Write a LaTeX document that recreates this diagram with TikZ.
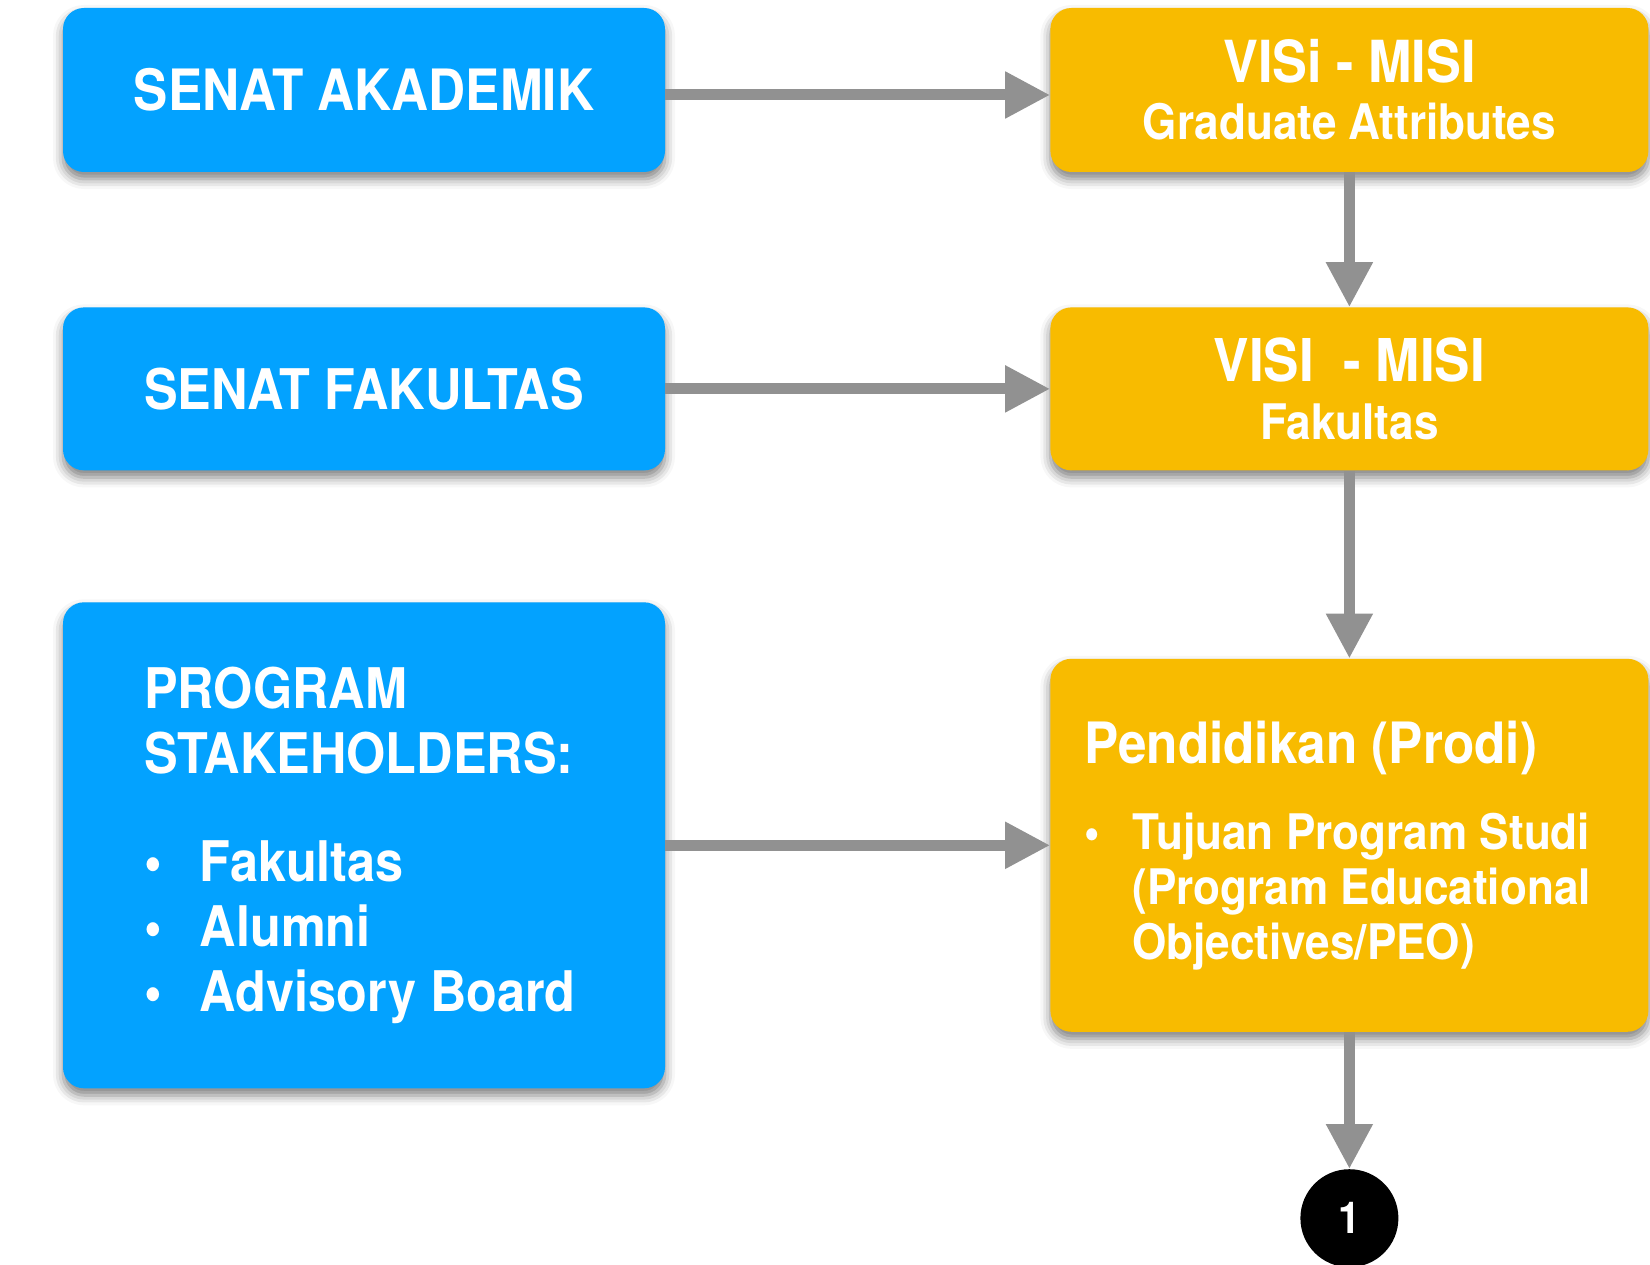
\documentclass[tikz,border=0pt]{standalone}
\usepackage{fontspec}
\setmainfont{TeX Gyre Heros}[FakeStretch=0.9]
\usetikzlibrary{positioning,arrows.meta,shadows.blur}
\definecolor{senatblue}{RGB}{3,162,255}
\definecolor{visiyellow}{RGB}{248,187,0}
\definecolor{arrowgray}{RGB}{145,145,145}
\newcommand{\itembullet}[1]{\makebox[#1][l]{\textbullet}}
\tikzset{
  boxshadow/.style={blur shadow={shadow xshift=0pt, shadow yshift=-7pt, shadow blur radius=10pt, shadow opacity=50}},
  bluebox/.style={rectangle, rounded corners=21pt, fill=senatblue, text=white, minimum width=602pt, inner sep=0pt, align=center, boxshadow},
  yellowbox/.style={rectangle, rounded corners=21pt, fill=visiyellow, text=white, minimum width=598pt, inner sep=0pt, align=center, boxshadow},
  flow/.style={draw=arrowgray, line width=11pt, -{Triangle[length=45pt, width=44pt]}}
}

\begin{document}
\begin{tikzpicture}[x=1pt, y=-1pt, node distance=385pt]
    \useasboundingbox (0,0) rectangle (1650,1265);

    % Senat Akademik
    \node[bluebox, minimum height=164pt, font=\bfseries\fontsize{57}{65}\selectfont] (senatak) at (364,90) {SENAT AKADEMIK};

    % Visi - Misi universitas
    \node[yellowbox, minimum height=164pt, font=\bfseries\fontsize{49}{57}\selectfont, right=of senatak] (visiuniv) {{\fontsize{58}{57}\selectfont VISi - MISI}\\Graduate Attributes};

    % Visi - Misi fakultas
    \node[yellowbox, minimum height=163pt, font=\bfseries\fontsize{49}{58}\selectfont, below=135pt of visiuniv] (visifak) {{\fontsize{59}{58}\selectfont VISI~ - MISI}\\Fakultas};

    % Senat Fakultas
    \node[bluebox, minimum height=163pt, font=\bfseries\fontsize{56}{65}\selectfont, left=of visifak] (senatfak) {SENAT FAKULTAS};

    % Pendidikan (Prodi)
    \node[yellowbox, minimum height=373pt, text width=530pt, inner xsep=34pt, align=flush left, font=\bfseries, below=188pt of visifak] (pendidikan) {%
      {\fontsize{57}{65}\selectfont Pendidikan (Prodi)\par}\vspace{31pt}%
      {\fontsize{49}{55}\selectfont \itembullet{48pt}Tujuan Program Studi\\\hspace*{48pt}(Program Educational\\\hspace*{48pt}Objectives/PEO)\par}};

    % Program stakeholders
    \node[bluebox, minimum height=486pt, text width=440pt, inner xsep=81pt, align=flush left, font=\bfseries, left=of pendidikan] (stakeholders) {%
      {\fontsize{56}{65}\selectfont PROGRAM\\STAKEHOLDERS:\par}\vspace{43pt}%
      {\fontsize{56}{65}\selectfont \itembullet{56pt}Fakultas\\\itembullet{56pt}Alumni\\\itembullet{56pt}Advisory Board\par}};

    % Nomor lanjutan
    \node[circle, fill=black, text=white, minimum size=98pt, inner sep=0pt, font=\bfseries\fontsize{44}{44}\selectfont, below=137pt of pendidikan] (nomor) {1};

    % Connections
    \draw[flow] ([yshift=-5pt]senatak.east) -- ([yshift=-5pt]visiuniv.west);
    \draw[flow] (senatfak) -- (visifak);
    \draw[flow] (stakeholders) -- (pendidikan);
    \draw[flow] (visiuniv) -- (visifak);
    \draw[flow] (visifak) -- (pendidikan);
    \draw[flow] (pendidikan) -- (nomor);
\end{tikzpicture}
\end{document}
